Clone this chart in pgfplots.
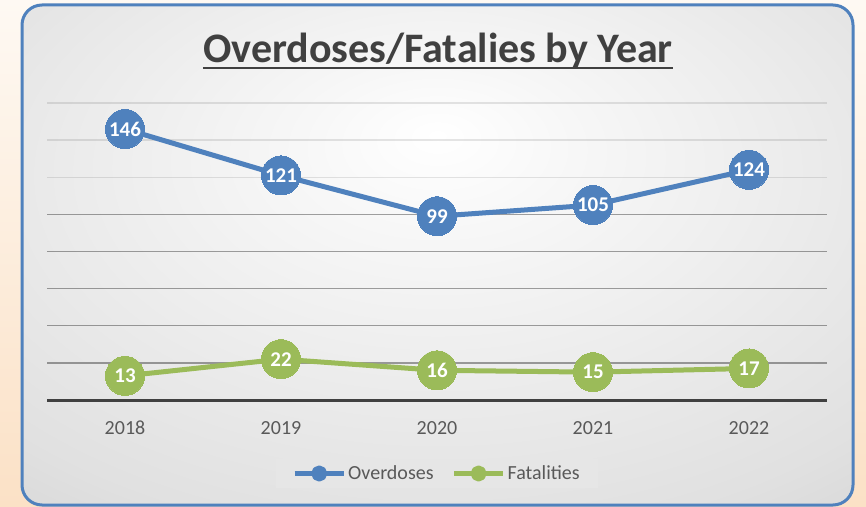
\documentclass[border=0pt]{standalone}
\usepackage{pgfplots}
\pgfplotsset{compat=1.18}
\usepackage{fontspec}
\setmainfont{Carlito}
\definecolor{blueC}{HTML}{4F81BD}
\definecolor{greenC}{HTML}{9BBB59}
\definecolor{frameC}{HTML}{4F81BD}
\definecolor{titleC}{HTML}{404040}
\definecolor{tickC}{HTML}{595959}
\definecolor{axisC}{HTML}{404040}
\definecolor{legbg}{HTML}{E6E6E6}
\definecolor{peachTop}{HTML}{FEF9F3}
\definecolor{peachBot}{HTML}{FBE1C6}
\pgfdeclareradialshading{chartbg}{\pgfpoint{0bp}{12bp}}{color(0bp)=(white); color(8bp)=(white!97!black); color(35bp)=(white!88!black); color(50bp)=(white!80!black); color(72bp)=(white!75!black)}

\begin{document}
\begin{tikzpicture}
\shade[top color=peachTop, bottom color=peachBot] (0pt,0pt) rectangle (866pt,506pt);
\path[use as bounding box] (0pt,0pt) rectangle (866pt,506pt);
\shade[shading=chartbg, rounded corners=20pt] (22pt,1pt) rectangle (853pt,501pt);
\draw[frameC, line width=3pt, rounded corners=20pt] (22pt,1pt) rectangle (853pt,501pt);
\node[inner sep=0pt, anchor=base, text=titleC, font=\bfseries\fontsize{42}{50}\selectfont] (t) at (438pt,443pt) {Overdoses/Fatalies by Year};
\draw[titleC, line width=2pt] ([yshift=-5pt]t.base west) -- ([yshift=-5pt]t.base east);
\begin{axis}[
  at={(47pt,106pt)}, anchor=south west, scale only axis,
  width=780pt, height=297pt,
  xmin=-0.5, xmax=4.5, ymin=0, ymax=160,
  /pgf/number format/assume math mode=true,
  xtick={0,1,2,3,4}, xticklabels={2018,2019,2020,2021,2022},
  ytick={20,40,60,80,100}, yticklabels={},
  minor ytick={120,140,160},
  extra y ticks={0}, extra y tick labels={},
  extra y tick style={major grid style={draw=axisC, opacity=1, line width=3pt}},
  ymajorgrids, yminorgrids,
  major grid style={draw=black, opacity=0.36, line width=1.3pt},
  minor grid style={draw=black, opacity=0.1, line width=1.3pt},
  axis line style={draw=none}, tick style={draw=none},
  xticklabel style={anchor=center, yshift=-28pt, text=tickC, font=\fontsize{20}{24}\selectfont},
  clip=false,
  legend columns=2,
  legend style={at={(0.5,-0.2475)}, anchor=center, draw=none, fill=legbg,
    inner xsep=16pt, inner ysep=5pt, font=\fontsize{20}{24}\selectfont, text=tickC,
    /tikz/every even column/.append style={column sep=16pt}},
  every node near coord/.append style={anchor=center, text=white, font=\bfseries\fontsize{21}{24}\selectfont},
]
\addplot[blueC, line width=5pt, line join=round, mark=*, mark size=19.5pt,
  mark options={fill=blueC, draw=blueC, line width=0pt}, nodes near coords,
  legend image code/.code={\draw[blueC, line width=5pt] (0pt,0pt) -- (49pt,0pt); \fill[blueC] (24.5pt,0pt) circle (5.5pt);}]
  coordinates {(0,146) (1,121) (2,99) (3,105) (4,124)};
\addlegendentry{Overdoses}
\addplot[greenC, line width=5pt, line join=round, mark=*, mark size=19.5pt,
  mark options={fill=greenC, draw=greenC, line width=0pt}, nodes near coords,
  legend image code/.code={\draw[greenC, line width=5pt] (0pt,0pt) -- (49pt,0pt); \fill[greenC] (24.5pt,0pt) circle (5.5pt);}]
  coordinates {(0,13) (1,22) (2,16) (3,15) (4,17)};
\addlegendentry{Fatalities}
\end{axis}
\end{tikzpicture}
\end{document}
